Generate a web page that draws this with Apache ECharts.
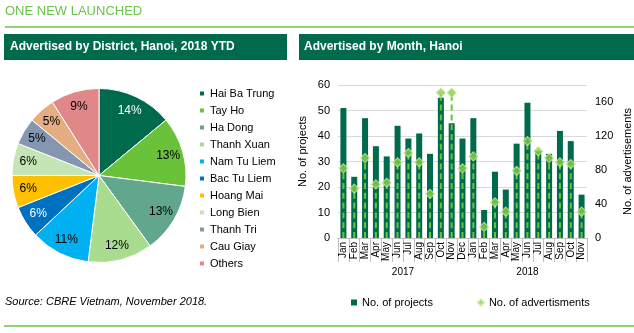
<!DOCTYPE html>
<html>
<head>
<meta charset="utf-8">
<script src="https://cdn.jsdelivr.net/npm/echarts@6/dist/echarts.min.js"></script>
<style>
  html, body { margin: 0; padding: 0; background: #fff; }
  #chart { width: 634px; height: 333px; }
</style>
</head>
<body>
<div id="chart"></div>
<script>
// District shares of advertised projects, Hanoi 2018 YTD (%)
const districts = ['Hai Ba Trung', 'Tay Ho', 'Ha Dong', 'Thanh Xuan', 'Nam Tu Liem', 'Bac Tu Liem',
                   'Hoang Mai', 'Long Bien', 'Thanh Tri', 'Cau Giay', 'Others'];
const districtShares = [14, 13, 13, 12, 11, 6, 6, 6, 5, 5, 9];

// Monthly figures, Jan 2017 - Nov 2018
const months2017 = ['Jan', 'Feb', 'Mar', 'Apr', 'May', 'Jun', 'Jul', 'Aug', 'Sep', 'Oct', 'Nov', 'Dec'];
const months2018 = ['Jan', 'Feb', 'Mar', 'Apr', 'May', 'Jun', 'Jul', 'Aug', 'Sep', 'Oct', 'Nov'];
const years = ['2017', '2018'];
const projects = [51, 24, 47, 36, 32, 44, 39, 41, 33, 55, 45, 39,
                  47, 11, 26, 19, 37, 53, 34, 33, 42, 38, 17];
const adverts = [82, 58, 94, 63, 65, 89, 100, 89, 52, 171, 171, 82,
                 96, 13, 42, 31, 79, 114, 102, 94, 89, 87, 31];

// Axis tick labels
const projectTicks = { min: 0, max: 60, step: 10 };
const advertTicks = { min: 0, max: 180, step: 40 };

// Styling
const sliceColors = ['#006a4d', '#69c23a', '#62a68e', '#a9dc8f', '#00b0f0', '#0070c0',
                     '#ffc000', '#c5e5b6', '#8496b0', '#e4ad82', '#e0878a'];
const sliceInk = ['#fff', '#000', '#000', '#000', '#000', '#fff', '#000', '#000', '#000', '#000', '#000'];
const DARK = '#006a4d';
const LIME = '#6cc24a';
const FONT = 'Liberation Sans, Arial, sans-serif';

const monthLabels = months2017.concat(months2018);
const yearBounds = [0, months2017.length, months2017.length + months2018.length];
const yearCentres = [yearBounds[0] + months2017.length / 2, yearBounds[1] + months2018.length / 2];

const chart = echarts.init(document.getElementById('chart'));

const pieData = districts.map((n, i) => ({ name: n, value: districtShares[i], itemStyle: { color: sliceColors[i] } }));
const pieLabelData = districts.map((n, i) => ({
  name: n, value: districtShares[i],
  itemStyle: { color: 'transparent' },
  label: { color: sliceInk[i] }
}));

chart.setOption({
  animation: false,
  textStyle: { fontFamily: FONT },
  graphic: [
    { type: 'text', left: 5, top: 5, style: { text: 'ONE NEW LAUNCHED', fill: LIME, font: '13px ' + FONT } },
    { type: 'line', shape: { x1: 5, y1: 27, x2: 634, y2: 27 }, style: { stroke: LIME, lineWidth: 1.5 } },
    { type: 'rect', shape: { x: 4, y: 34, width: 283, height: 26 }, style: { fill: DARK } },
    { type: 'text', x: 10, y: 47, style: { text: 'Advertised by District, Hanoi, 2018 YTD', fill: '#fff',
      font: 'bold 12px ' + FONT, verticalAlign: 'middle' } },
    { type: 'rect', shape: { x: 299, y: 34, width: 335, height: 26 }, style: { fill: DARK } },
    { type: 'text', x: 304, y: 47, style: { text: 'Advertised by Month, Hanoi', fill: '#fff',
      font: 'bold 12px ' + FONT, verticalAlign: 'middle' } },
    { type: 'text', x: 5, y: 302, style: { text: 'Source: CBRE Vietnam, November 2018.', fill: '#000',
      font: 'italic 11px ' + FONT, verticalAlign: 'middle' } },
    { type: 'line', shape: { x1: 4, y1: 326, x2: 634, y2: 326 }, style: { stroke: LIME, lineWidth: 1.5 } }
  ],
  legend: [
    {
      orient: 'vertical', left: 193, top: 82, itemWidth: 6, itemHeight: 6, itemGap: 4,
      icon: 'rect', data: districts,
      textStyle: { fontSize: 11, color: '#000', lineHeight: 13 }
    },
    {
      orient: 'horizontal', left: 346, top: 292, itemWidth: 6, itemHeight: 6, itemGap: 44,
      data: [{ name: 'No. of projects', icon: 'rect' }, { name: 'No. of advertisments', icon: 'diamond' }],
      textStyle: { fontSize: 11, color: '#000' }
    }
  ],
  grid: { left: 338, right: 45, top: 85, bottom: 95 },
  xAxis: [
    {
      type: 'category', data: monthLabels,
      axisLine: { lineStyle: { color: '#a6a6a6' } },
      axisTick: { show: true, interval: 0, length: 24, lineStyle: { color: '#bfbfbf' } },
      axisLabel: { interval: 0, rotate: 90, fontSize: 10, color: '#000', margin: 4 }
    },
    {
      type: 'value', position: 'bottom', offset: 24, min: yearBounds[0], max: yearBounds[2],
      axisLine: { show: true, lineStyle: { color: '#bfbfbf' } },
      axisTick: { show: true, customValues: yearBounds, length: 17, lineStyle: { color: '#bfbfbf' } },
      axisLabel: { customValues: yearCentres, fontSize: 10, color: '#000', margin: 5,
        formatter: v => years[v < yearBounds[1] ? 0 : 1] },
      splitLine: { show: false }
    }
  ],
  yAxis: [
    {
      type: 'value', min: projectTicks.min, max: projectTicks.max, interval: projectTicks.step,
      axisLine: { show: false }, axisTick: { show: false },
      splitLine: { lineStyle: { color: '#d9d9d9' } },
      axisLabel: { fontSize: 11, color: '#000', margin: 8 },
      name: 'No. of projects', nameLocation: 'middle', nameGap: 30, nameRotate: 90,
      nameTextStyle: { fontSize: 11, color: '#000', padding: [0, 0, 0, 20] }
    },
    {
      type: 'value', min: advertTicks.min, max: advertTicks.max, interval: advertTicks.step,
      axisLine: { show: false }, axisTick: { show: false }, splitLine: { show: false },
      axisLabel: { fontSize: 11, color: '#000', margin: 8, showMaxLabel: false },
      name: 'No. of advertisements', nameLocation: 'middle', nameGap: 35, nameRotate: 90,
      nameTextStyle: { fontSize: 11, color: '#000' }
    }
  ],
  series: [
    {
      name: 'districts', type: 'pie', center: [99, 175.5], radius: 87, startAngle: 90,
      data: pieData, label: { show: false }, labelLine: { show: false },
      itemStyle: { borderColor: '#fff', borderWidth: 1 },
      emphasis: { disabled: true }
    },
    {
      name: 'districtLabels', type: 'pie', center: [99, 175.5], radius: [0, 138], startAngle: 90,
      data: pieLabelData, silent: true, z: 5,
      label: { show: true, position: 'inside', fontSize: 12, formatter: p => p.value + '%' },
      labelLine: { show: false }, emphasis: { disabled: true }
    },
    {
      name: 'No. of projects', type: 'bar', data: projects, barWidth: 6,
      itemStyle: { color: DARK }, z: 2
    },
    {
      name: 'advertDrop', type: 'pictorialBar', yAxisIndex: 1, data: adverts,
      symbol: 'rect', symbolSize: [2, 6], symbolRepeat: true, symbolMargin: 2, symbolClip: true,
      itemStyle: { color: '#66c43a' }, z: 3, silent: true
    },
    {
      name: 'No. of advertisments', type: 'scatter', yAxisIndex: 1, data: adverts,
      symbol: 'diamond', symbolSize: 9,
      itemStyle: { color: '#86cf45', borderColor: '#c3eaa0', borderWidth: 1.2 }, z: 4
    }
  ]
});
</script>
</body>
</html>
